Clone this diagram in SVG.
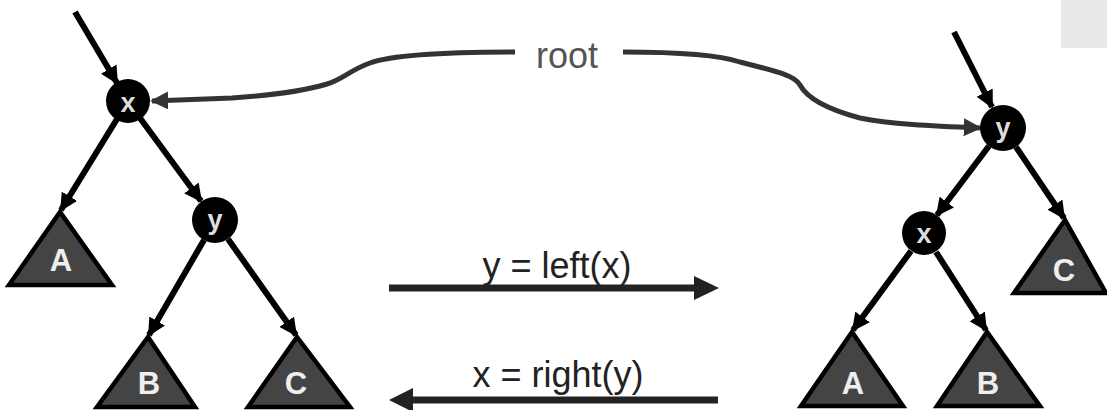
<svg xmlns="http://www.w3.org/2000/svg" width="1107" height="410" viewBox="0 0 1107 410">
<style>
.edge{stroke:#000;stroke-width:6;fill:none;marker-end:url(#ah)}
.rootc{stroke:#333;stroke-width:5;fill:none;marker-end:url(#ahg)}
.tri{fill:#444;stroke:#000;stroke-width:4.5;stroke-linejoin:miter}
.tl{font-family:"Liberation Sans",Arial,sans-serif;font-weight:bold;font-size:31px;fill:#eee;text-anchor:middle}
.node{fill:#000}
.nl{font-family:"Liberation Sans",Arial,sans-serif;font-weight:bold;font-size:27px;fill:#ddd;text-anchor:middle}
.lbl{font-family:"Liberation Sans",Arial,sans-serif;font-size:36px;fill:#222;text-anchor:middle}
.harrow{stroke:#222;stroke-width:7}
</style>
<defs>
<marker id="ah" viewBox="0 0 10 10" refX="9" refY="5" markerWidth="18" markerHeight="18" markerUnits="userSpaceOnUse" orient="auto"><path d="M0,0 L10,5 L0,10 z" fill="#000"/></marker>
<marker id="ahg" viewBox="0 0 10 10" refX="9" refY="5" markerWidth="18" markerHeight="18" markerUnits="userSpaceOnUse" orient="auto"><path d="M0,0 L10,5 L0,10 z" fill="#333"/></marker>
</defs>
<rect x="1061" y="0" width="46" height="48" fill="#e8e8e8"/>
<g id="connectors">
<line class="edge" x1="75" y1="12" x2="117" y2="83"/>
<line class="edge" x1="117" y1="119" x2="61" y2="210"/>
<line class="edge" x1="140" y1="118" x2="201" y2="201"/>
<line class="edge" x1="204" y1="240" x2="149" y2="335"/>
<line class="edge" x1="228" y1="239" x2="296" y2="335"/>
<line class="edge" x1="954" y1="32" x2="992" y2="107"/>
<line class="edge" x1="989" y1="146" x2="937" y2="215"/>
<line class="edge" x1="1016" y1="147" x2="1064" y2="218"/>
<line class="edge" x1="911" y1="251" x2="853" y2="330"/>
<line class="edge" x1="936" y1="252" x2="986" y2="330"/>
<path class="rootc" d="M515,52 C450,52 392,55 370,63 C350,70 342,80 327,84 C300,92 262,96 232,98 L152,101"/>
<path class="rootc" d="M623,52 C680,52 722,56 740,62 C780,72 795,76 800,85 C808,100 830,110 860,118 C890,124 930,126 980,128"/>
<line class="harrow" x1="389" y1="288" x2="700" y2="288"/>
<polygon points="694,276 719,288 694,300" fill="#222"/>
<line class="harrow" x1="718" y1="400" x2="408" y2="400"/>
<polygon points="413,388 389,400 413,412" fill="#222"/>
</g>
<g id="label-root"><text class="lbl" x="567" y="68" style="fill:#555">root</text></g>
<g id="label-left"><text class="lbl" x="557" y="278">y = left(x)</text></g>
<g id="label-right"><text class="lbl" x="558" y="387">x = right(y)</text></g>
<g id="L-x"><circle class="node" cx="128" cy="101" r="22"/><text class="nl" x="128" y="112">x</text></g>
<g id="L-y"><circle class="node" cx="215" cy="220" r="23"/><text class="nl" x="215" y="229">y</text></g>
<g id="L-A"><polygon class="tri" points="60,212 9,285 112,285"/><text class="tl" x="61" y="271">A</text></g>
<g id="L-B"><polygon class="tri" points="148,337 97,407 195,407"/><text class="tl" x="149" y="394">B</text></g>
<g id="L-C"><polygon class="tri" points="297,337 248,407 350,407"/><text class="tl" x="296" y="394">C</text></g>
<g id="R-y"><circle class="node" cx="1003" cy="128" r="23"/><text class="nl" x="1003" y="137">y</text></g>
<g id="R-x"><circle class="node" cx="924" cy="233" r="22"/><text class="nl" x="924" y="243">x</text></g>
<g id="R-C"><polygon class="tri" points="1065,220 1014,293 1106,293"/><text class="tl" x="1064" y="281">C</text></g>
<g id="R-A"><polygon class="tri" points="852,332 801,406 903,406"/><text class="tl" x="853" y="394">A</text></g>
<g id="R-B"><polygon class="tri" points="987,332 937,406 1040,406"/><text class="tl" x="988" y="394">B</text></g>
</svg>
